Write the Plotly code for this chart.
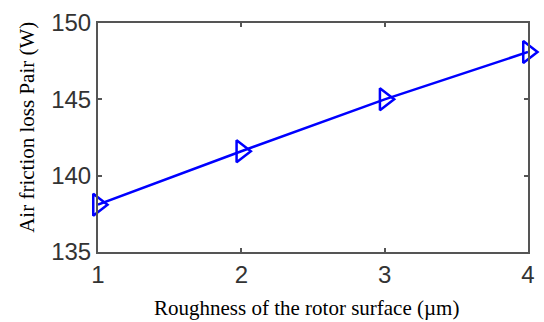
import plotly.graph_objects as go

roughness = [1, 2, 3, 4]
air_loss = [138.1, 141.6, 145.0, 148.1]
x_ticks = [1, 2, 3, 4]
y_ticks = [135, 140, 145, 150]
x_title = "Roughness of the rotor surface (µm)"
y_title = "Air friction loss Pair (W)"

fig = go.Figure()
fig.add_trace(go.Scatter(
    x=roughness, y=air_loss, mode="lines+markers",
    line=dict(color="#0000ff", width=2.5),
    marker=dict(symbol="triangle-right-open", size=19, color="#0000ff",
                line=dict(width=2.5, color="#0000ff")),
    cliponaxis=False, showlegend=False))

axis_common = dict(
    showgrid=False, zeroline=False, showline=True, linecolor="#555555",
    linewidth=2, mirror="ticks", ticks="inside", ticklen=4, tickwidth=1.5,
    tickcolor="#555555",
    tickfont=dict(family="Liberation Sans, Arial", size=24, color="#333333"))

fig.update_xaxes(range=[1, 4], tickvals=x_ticks, **axis_common)
fig.update_yaxes(range=[135, 150], tickvals=y_ticks, **axis_common)

title_font = dict(family="Liberation Serif, Times New Roman", size=21, color="#000")
fig.add_annotation(text=x_title, xref="paper", yref="paper", x=0.485, y=-0.246,
                   xanchor="center", yanchor="middle", showarrow=False, font=title_font)
fig.add_annotation(text=y_title, xref="paper", yref="paper", x=-0.167, y=0.543,
                   xanchor="center", yanchor="middle", showarrow=False, textangle=-90,
                   font=title_font)

fig.update_layout(width=544, height=322,
                  margin=dict(l=98, r=9, t=20, b=70),
                  paper_bgcolor="white", plot_bgcolor="white")
fig.write_html("out.html")
